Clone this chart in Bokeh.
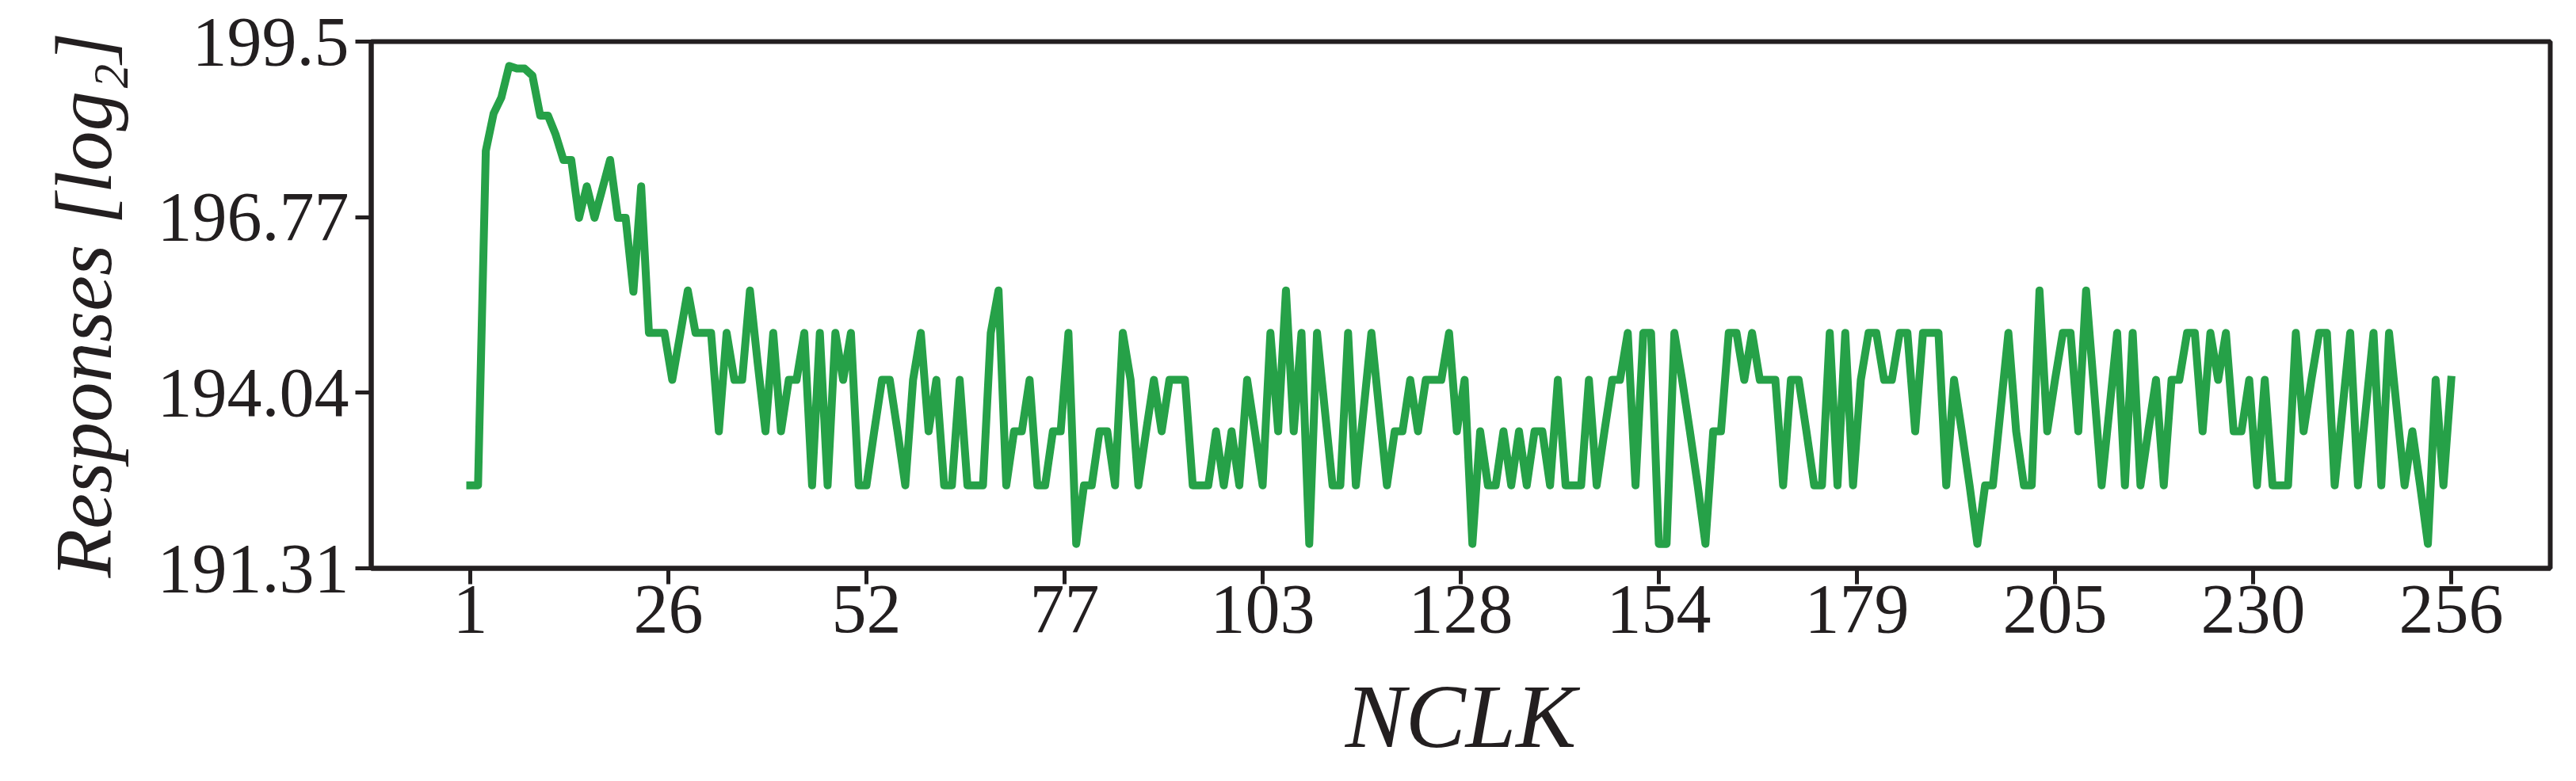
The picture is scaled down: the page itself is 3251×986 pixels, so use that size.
import numpy as np
from bokeh.plotting import figure
from bokeh.models import Range1d, FixedTicker
from bokeh.embed import file_html
from bokeh.resources import INLINE

# ---- data ----
responses = [
    192.60, 192.60, 197.80, 198.38, 198.63, 199.12, 199.08, 199.08, 198.97, 198.35,
    198.35, 198.05, 197.66, 197.66, 196.76, 197.25, 196.76, 197.21, 197.66, 196.76,
    196.76, 195.61, 197.25, 194.97, 194.97, 194.97, 194.24, 194.93, 195.63, 194.97,
    194.97, 194.97, 193.44, 194.97, 194.24, 194.24, 195.63, 194.50, 193.44, 194.97,
    193.44, 194.24, 194.24, 194.97, 192.60, 194.97, 192.60, 194.97, 194.24, 194.97,
    192.60, 192.60, 193.44, 194.24, 194.24, 193.44, 192.60, 194.24, 194.97, 193.44,
    194.24, 192.60, 192.60, 194.24, 192.60, 192.60, 192.60, 194.97, 195.63, 192.60,
    193.44, 193.44, 194.24, 192.60, 192.60, 193.44, 193.44, 194.97, 191.69, 192.60,
    192.60, 193.44, 193.44, 192.60, 194.97, 194.24, 192.60, 193.44, 194.24, 193.44,
    194.24, 194.24, 194.24, 192.60, 192.60, 192.60, 193.44, 192.60, 193.44, 192.60,
    194.24, 193.44, 192.60, 194.97, 193.44, 195.63, 193.44, 194.97, 191.69, 194.97,
    193.78, 192.60, 192.60, 194.97, 192.60, 193.78, 194.97, 193.78, 192.60, 193.44,
    193.44, 194.24, 193.44, 194.24, 194.24, 194.24, 194.97, 193.44, 194.24, 191.69,
    193.44, 192.60, 192.60, 193.44, 192.60, 193.44, 192.60, 193.44, 193.44, 192.60,
    194.24, 192.60, 192.60, 192.60, 194.24, 192.60, 193.44, 194.24, 194.24, 194.97,
    192.60, 194.97, 194.97, 191.69, 191.69, 194.97, 194.24, 193.44, 192.60, 191.69,
    193.44, 193.44, 194.97, 194.97, 194.24, 194.97, 194.24, 194.24, 194.24, 192.60,
    194.24, 194.24, 193.44, 192.60, 192.60, 194.97, 192.60, 194.97, 192.60, 194.24,
    194.97, 194.97, 194.24, 194.24, 194.97, 194.97, 193.44, 194.97, 194.97, 194.97,
    192.60, 194.24, 193.44, 192.60, 191.69, 192.60, 192.60, 193.78, 194.97, 193.44,
    192.60, 192.60, 195.63, 193.44, 194.24, 194.97, 194.97, 193.44, 195.63, 194.13,
    192.60, 193.78, 194.97, 192.60, 194.97, 192.60, 193.44, 194.24, 192.60, 194.24,
    194.24, 194.97, 194.97, 193.44, 194.97, 194.24, 194.97, 193.44, 193.44, 194.24,
    192.60, 194.24, 192.60, 192.60, 192.60, 194.97, 193.44, 194.24, 194.97, 194.97,
    192.60, 193.78, 194.97, 192.60, 193.78, 194.97, 192.60, 194.97, 193.78, 192.60,
    193.44, 192.60, 191.69, 194.24, 192.60, 194.24,
]
nclk = list(range(1, len(responses) + 1))

y_ticks = [191.31, 194.04, 196.77, 199.5]
y_tick_labels = ["191.31", "194.04", "196.77", "199.5"]
x_tick_labels = ["1", "26", "52", "77", "103", "128", "154", "179", "205", "230", "256"]
x_ticks = list(np.linspace(1, 256, len(x_tick_labels)))

# ---- figure ----
INK = "#231f20"
GREEN = "#26a148"
FONT = "Liberation Serif"

p = figure(
    width=3235, height=970,
    output_backend="svg", toolbar_location=None,
    x_range=Range1d(-11.75, 268.75),
    y_range=Range1d(191.31, 199.5),
    min_border_left=468, min_border_right=17,
    min_border_top=52, min_border_bottom=242,
    background_fill_color="white", border_fill_color="white",
)
p.xgrid.visible = False
p.ygrid.visible = False
p.outline_line_color = INK
p.outline_line_width = 6
p.outline_line_alpha = 1.0

p.line(nclk, responses, line_color=GREEN, line_width=10,
       line_join="round", line_cap="square")

p.xaxis.ticker = FixedTicker(ticks=x_ticks)
p.xaxis.major_label_overrides = {t: l for t, l in zip(x_ticks, x_tick_labels)}
p.yaxis.ticker = FixedTicker(ticks=y_ticks)
p.yaxis.major_label_overrides = {t: l for t, l in zip(y_ticks, y_tick_labels)}

for ax in (p.xaxis, p.yaxis):
    ax.axis_line_color = INK
    ax.axis_line_width = 6
    ax.major_tick_line_color = INK
    ax.major_tick_line_width = 5
    ax.major_tick_out = 20
    ax.major_tick_in = 0
    ax.minor_tick_line_color = None
    ax.major_label_text_font = FONT
    ax.major_label_text_font_size = "88px"
    ax.major_label_text_color = INK
    ax.axis_label_text_font = FONT
    ax.axis_label_text_font_style = "italic"
    ax.axis_label_text_color = INK

p.xaxis.axis_label = "NCLK"
p.xaxis.axis_label_text_font_size = "114px"
p.xaxis.major_label_standoff = 2
p.xaxis.axis_label_standoff = 40

p.yaxis.axis_label = "Responses [log\u2082]"
p.yaxis.axis_label_text_font_size = "101px"
p.yaxis.major_label_standoff = 8
p.yaxis.axis_label_standoff = 34

open("out.html", "w").write(file_html(p, INLINE))
